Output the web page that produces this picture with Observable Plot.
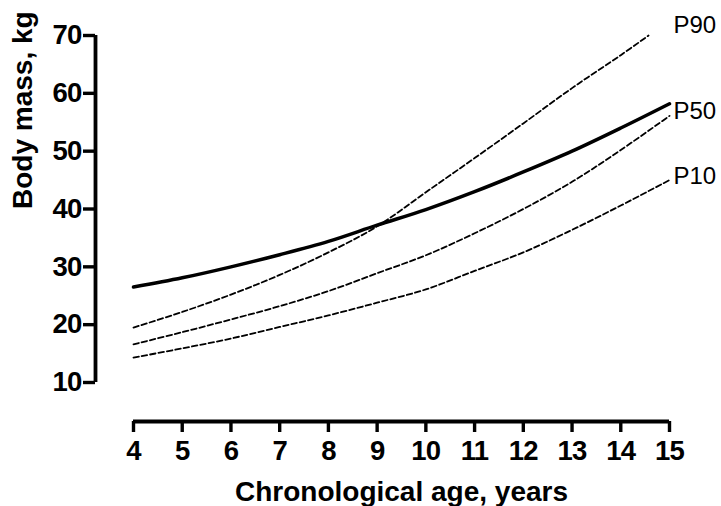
<!DOCTYPE html>
<html>
<head>
<meta charset="utf-8">
<script src="https://cdn.jsdelivr.net/npm/d3@7"></script>
<script src="https://cdn.jsdelivr.net/npm/@observablehq/plot@0.6"></script>
<style>
  html, body { margin: 0; padding: 0; background: #fff; }
  .tick-labels text { letter-spacing: -0.8px; }
</style>
</head>
<body>
<div id="chart"></div>
<script>
// Age (years)
const ages = [4, 5, 6, 7, 8, 9, 10, 11, 12, 13, 14, 15];
// Sample curve (solid)
const sampleMass = [26.5, 28.1, 30.0, 32.1, 34.4, 37.2, 39.9, 43.0, 46.4, 50.0, 54.0, 58.2];
// Reference percentiles (dashed)
const p90Ages = [4, 5, 6, 7, 8, 9, 10, 11, 12, 13, 14, 14.57];
const p90Mass = [19.5, 22.2, 25.2, 28.6, 32.5, 37.0, 42.9, 48.8, 54.8, 60.9, 66.6, 70.0];
const p50Mass = [16.6, 18.7, 20.9, 23.2, 25.8, 28.9, 32.0, 35.8, 40.0, 44.7, 50.2, 56.1];
const p10Mass = [14.3, 15.9, 17.6, 19.6, 21.6, 23.8, 26.1, 29.3, 32.5, 36.4, 40.6, 45.0];
// Percentile labels
const labelNames = ["P90", "P50", "P10"];
const labelMass = [71.7, 56.9, 45.6];
// Ticks
const xTicks = [4, 5, 6, 7, 8, 9, 10, 11, 12, 13, 14, 15];
const yTicks = [10, 20, 30, 40, 50, 60, 70];
const xTitle = "Chronological age, years";
const yTitle = "Body mass, kg";

const sample = ages.map((a, i) => ({age: a, mass: sampleMass[i]}));
const p90 = p90Ages.map((a, i) => ({age: a, mass: p90Mass[i]}));
const p50 = ages.map((a, i) => ({age: a, mass: p50Mass[i]}));
const p10 = ages.map((a, i) => ({age: a, mass: p10Mass[i]}));
const labels = labelNames.map((n, i) => ({name: n, age: 15, mass: labelMass[i]}));

const font = "'Liberation Sans', Arial, Helvetica, sans-serif";
const dash = "5.5,3";

const chart = Plot.plot({
  width: 721,
  height: 506,
  marginTop: 35,
  marginBottom: 124,
  marginLeft: 133,
  marginRight: 52,
  x: {domain: [4, 15]},
  y: {domain: [10, 70]},
  style: {fontFamily: font, color: "black", background: "white", overflow: "visible"},
  marks: [
    // y axis
    Plot.ruleX([4], {y1: 10, y2: 70, dx: -38, strokeWidth: 3.8, stroke: "black"}),
    Plot.axisY({ticks: yTicks, tickSize: 12, dx: -38, tickPadding: 2, fontSize: 27.5, fontWeight: "bold",
                label: null, strokeWidth: 3.4, tickFormat: d => d, className: "tick-labels"}),
    // x axis
    Plot.ruleY([10], {x1: 4, x2: 15, dy: 39, strokeWidth: 3.8, stroke: "black"}),
    Plot.axisX({ticks: xTicks, tickSize: 11, dy: 39, tickPadding: 8, fontSize: 27.5, fontWeight: "bold",
                label: null, strokeWidth: 3.4, tickFormat: d => d, className: "tick-labels"}),
    // curves
    Plot.line(p90, {x: "age", y: "mass", curve: "catmull-rom", stroke: "black", strokeWidth: 1.8, strokeDasharray: dash}),
    Plot.line(p50, {x: "age", y: "mass", curve: "catmull-rom", stroke: "black", strokeWidth: 1.8, strokeDasharray: dash}),
    Plot.line(p10, {x: "age", y: "mass", curve: "catmull-rom", stroke: "black", strokeWidth: 1.8, strokeDasharray: dash}),
    Plot.line(sample, {x: "age", y: "mass", curve: "catmull-rom", stroke: "black", strokeWidth: 3.5, strokeLinecap: "round"}),
    // labels
    Plot.text(labels, {x: "age", y: "mass", text: "name", dx: 4, textAnchor: "start", lineAnchor: "middle",
                       fontSize: 24, fill: "black"}),
    // axis titles
    Plot.text([xTitle], {frameAnchor: "bottom", dy: 110, lineAnchor: "middle", fontSize: 28, fontWeight: "bold", fill: "black"}),
    Plot.text([yTitle], {frameAnchor: "left", dx: -110, rotate: -90, lineAnchor: "middle", fontSize: 28, fontWeight: "bold", fill: "black"})
  ]
});
document.getElementById("chart").appendChild(chart);
</script>
</body>
</html>
